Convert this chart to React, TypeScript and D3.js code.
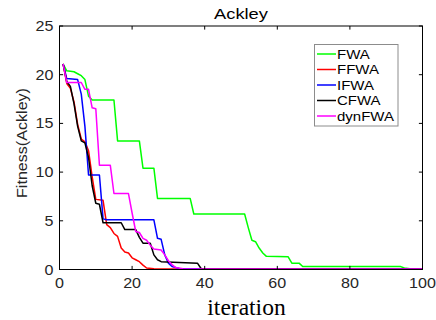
import React from "react";
import * as d3 from "d3";

const seriesNames = ["FWA", "FFWA", "IFWA", "CFWA", "dynFWA"];
const seriesColors = ["#00ff00", "#ff0000", "#0000ff", "#000000", "#ff00ff"];

const fwa: [number, number][] = [
  [1, 21.1], [2, 20.4], [4, 20.3], [5, 20.1], [6, 19.9], [7, 19.5], [8, 17.8], [9, 17.4],
  [15, 17.4], [16, 13.2], [22, 13.2], [23, 10.4], [26, 10.4], [27, 7.3], [36, 7.3], [37, 5.7],
  [51, 5.7], [52, 4.3], [53, 3.0], [54, 2.85], [55, 2.2], [56, 1.7], [57, 1.35], [63, 1.3],
  [64, 0.65], [66, 0.65], [67, 0.3], [94, 0.3], [95, 0.15], [97, 0.05], [100, 0.05],
];
const ffwa: [number, number][] = [
  [1, 21.1], [2, 19.1], [3, 18.6], [4, 17.2], [5, 14.9], [6, 13.4], [7, 13.1], [8, 12.2],
  [9, 9.5], [10, 7.2], [12, 7.1], [13, 4.6], [14, 4.3], [15, 3.7], [16, 3.4], [17, 2.2],
  [18, 1.8], [19, 1.7], [20, 1.2], [21, 1.0], [22, 0.8], [23, 0.45], [24, 0.15], [26, 0.08],
  [100, 0.05],
];
const ifwa: [number, number][] = [
  [1, 21.1], [2, 19.6], [5, 19.5], [6, 18.0], [7, 14.7], [8, 9.7], [11, 9.7], [12, 5.2],
  [13, 5.1], [26, 5.1], [27, 3.2], [28, 3.1], [29, 1.5], [30, 0.65], [31, 0.3], [33, 0.1],
  [100, 0.05],
];
const cfwa: [number, number][] = [
  [1, 21.1], [2, 19.3], [3, 18.8], [4, 17.0], [5, 14.7], [6, 13.2], [7, 13.0], [8, 11.5],
  [9, 8.6], [10, 6.8], [11, 6.7], [12, 4.8], [17, 4.8], [18, 4.1], [21, 4.1], [22, 3.3],
  [23, 2.7], [25, 2.7], [26, 1.5], [27, 1.0], [28, 0.8], [38, 0.65], [39, 0.1], [100, 0.05],
];
const dynfwa: [number, number][] = [
  [1, 21.1], [2, 19.2], [6, 19.2], [7, 18.5], [8, 18.5], [9, 16.6], [10, 16.5], [11, 10.7],
  [14, 10.7], [15, 7.8], [19, 7.8], [20, 5.8], [21, 3.9], [22, 3.8], [23, 3.2], [24, 3.0],
  [25, 2.5], [26, 2.1], [28, 2.0], [29, 1.5], [30, 0.9], [31, 0.5], [32, 0.2], [34, 0.08],
  [100, 0.05],
];
const seriesData = [fwa, ffwa, ifwa, cfwa, dynfwa];

const xTicks = [0, 20, 40, 60, 80, 100];
const yTicks = [0, 5, 10, 15, 20, 25];

const W = 436;
const H = 320;
const L = 59.5, R = 422.5, T = 26, B = 269.5;
const SANS = "'Liberation Sans', Arial, sans-serif";
const SX = 1.15;

export default function App() {
  const x = d3.scaleLinear().domain([0, 100]).range([L, R]);
  const y = d3.scaleLinear().domain([0, 25]).range([B, T]);
  const line = d3
    .line<[number, number]>()
    .x((d) => x(d[0]))
    .y((d) => y(d[1]));
  const tl = 3.6;

  return (
    <svg
      width={W}
      height={H}
      style={{ position: "absolute", left: 0, top: 0, background: "#fff" }}
    >
      <rect x={0} y={0} width={W} height={H} fill="#fff" />
      {/* series */}
      <g fill="none" strokeWidth={1.5} strokeLinejoin="round">
        {seriesData.map((s, i) => (
          <path key={seriesNames[i]} d={line(s) || ""} stroke={seriesColors[i]} />
        ))}
      </g>
      {/* box */}
      <rect x={L} y={T} width={R - L} height={B - T} fill="none" stroke="#000" strokeWidth={1} />
      {/* x ticks */}
      {xTicks.map((t) => (
        <g key={"x" + t}>
          <line x1={x(t)} x2={x(t)} y1={B} y2={B - tl} stroke="#000" />
          <line x1={x(t)} x2={x(t)} y1={T} y2={T + tl} stroke="#000" />
          <text
            transform={`translate(${x(t)},288.3) scale(${SX},1)`}
            textAnchor="middle"
            fontFamily={SANS}
            fontSize={14}
            fill="#262626"
          >
            {t}
          </text>
        </g>
      ))}
      {/* y ticks */}
      {yTicks.map((t) => (
        <g key={"y" + t}>
          <line x1={L} x2={L + tl} y1={y(t)} y2={y(t)} stroke="#000" />
          <line x1={R} x2={R - tl} y1={y(t)} y2={y(t)} stroke="#000" />
          <text
            transform={`translate(53.5,${y(t) + 5}) scale(${SX},1)`}
            textAnchor="end"
            fontFamily={SANS}
            fontSize={14}
            fill="#262626"
          >
            {t}
          </text>
        </g>
      ))}
      {/* title */}
      <text
        transform={`translate(${(L + R) / 2},18.5) scale(1.18,1)`}
        textAnchor="middle"
        fontFamily={SANS}
        fontSize={15.5}
        fill="#000"
      >
        Ackley
      </text>
      {/* y label */}
      <text
        transform={`translate(27,143) rotate(-90) scale(${SX},1)`}
        textAnchor="middle"
        fontFamily={SANS}
        fontSize={14}
        fill="#262626"
      >
        Fitness(Ackley)
      </text>
      {/* x label */}
      <text
        x={246.5}
        y={315}
        textAnchor="middle"
        fontFamily="'Liberation Serif', 'Times New Roman', serif"
        fontSize={23.5}
        fill="#000"
      >
        iteration
      </text>
      {/* legend */}
      <g>
        <rect x={314.5} y={44.5} width={83.5} height={81.5} fill="#fff" stroke="#8c8c8c" strokeWidth={1} />
        {seriesNames.map((n, i) => {
          const cy = 54 + i * 15.5;
          return (
            <g key={"lg" + n}>
              <line x1={317} x2={336} y1={cy} y2={cy} stroke={seriesColors[i]} strokeWidth={1.5} />
              <text
                transform={`translate(337,${cy + 4.5}) scale(1.2,1)`}
                fontFamily={SANS}
                fontSize={12.5}
                fill="#000"
              >
                {n}
              </text>
            </g>
          );
        })}
      </g>
    </svg>
  );
}
